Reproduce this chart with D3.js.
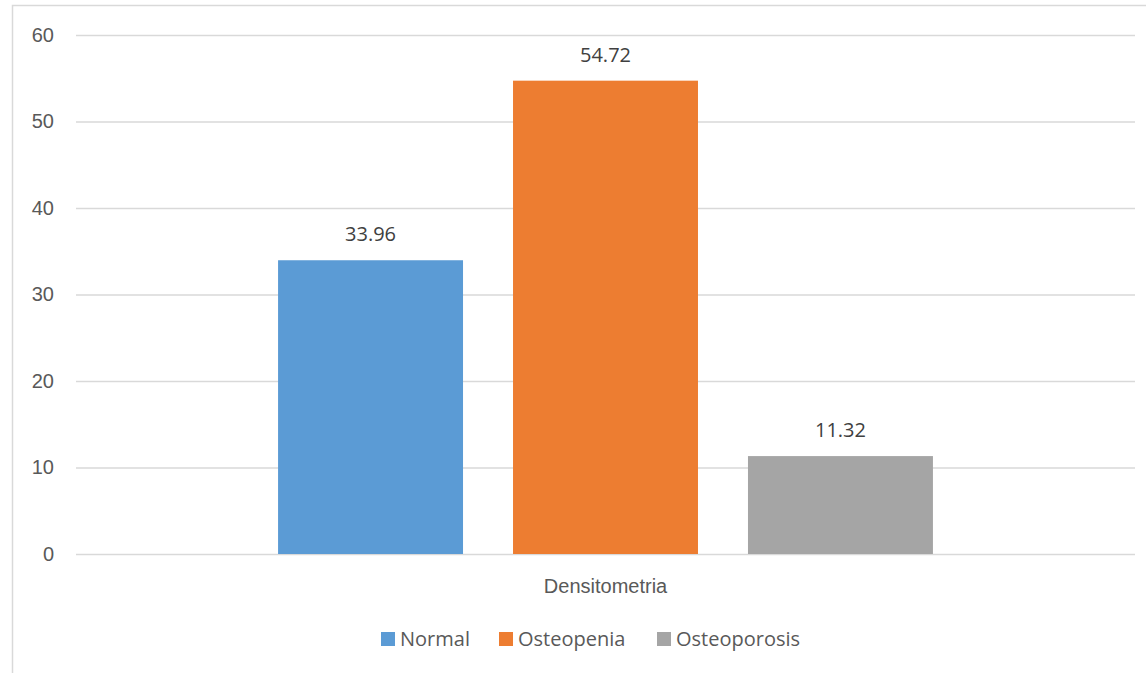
<!DOCTYPE html>
<html>
<head>
<meta charset="utf-8">
<script src="https://cdn.jsdelivr.net/npm/d3@7"></script>
<style>
  body { margin: 0; background: #fff; }
  svg { display: block; font-family: "Open Sans", "Noto Sans", sans-serif; }
</style>
</head>
<body>
<svg id="chart" width="1146" height="673"></svg>
<script>
// data
var categories = ["Densitometria"];
var seriesNames = ["Normal", "Osteopenia", "Osteoporosis"];
var seriesValues = [33.96, 54.72, 11.32];
var seriesColors = ["#5b9bd5", "#ed7d31", "#a5a5a5"];
var yTicks = [0, 10, 20, 30, 40, 50, 60];

var W = 1146, H = 673;
var margin = { top: 35, right: 11, bottom: 119, left: 76 };
var FONT = "20px";

var svg = d3.select("#chart");

// chart frame
svg.append("rect")
  .attr("x", 12.5).attr("y", 5.5)
  .attr("width", W + 10).attr("height", H + 10)
  .attr("fill", "none").attr("stroke", "#d9d9d9").attr("stroke-width", 1.5);

var x0 = d3.scaleBand()
  .domain(categories)
  .range([margin.left, W - margin.right]);

var x1 = d3.scaleBand()
  .domain(seriesNames)
  .range([0, x0.bandwidth()])
  .paddingInner(0.2128)
  .paddingOuter(0.86);

var y = d3.scaleLinear()
  .domain([0, 60])
  .range([H - margin.bottom, margin.top]);

// gridlines
var yAxis = d3.axisLeft(y)
  .tickValues(yTicks)
  .tickSize(-(W - margin.left - margin.right))
  .tickPadding(22);

var gy = svg.append("g")
  .attr("transform", "translate(" + margin.left + ",0)")
  .call(yAxis);
gy.select(".domain").remove();
gy.selectAll(".tick line").attr("stroke", "#d9d9d9").attr("stroke-width", 1.3);
gy.selectAll(".tick text")
  .attr("fill", "#595959")
  .style("font-size", FONT);

// bars
var group = svg.append("g")
  .selectAll("g")
  .data(categories)
  .join("g")
  .attr("transform", function(d) { return "translate(" + x0(d) + ",0)"; });

var barData = seriesNames.map(function(name, i) {
  return { name: name, value: seriesValues[i], color: seriesColors[i] };
});

group.selectAll("rect")
  .data(barData)
  .join("rect")
  .attr("x", function(d) { return x1(d.name); })
  .attr("y", function(d) { return y(d.value); })
  .attr("width", x1.bandwidth())
  .attr("height", function(d) { return y(0) - y(d.value); })
  .attr("fill", function(d) { return d.color; });

group.selectAll("text.label")
  .data(barData)
  .join("text")
  .classed("label", true)
  .attr("x", function(d) { return x1(d.name) + x1.bandwidth() / 2; })
  .attr("y", function(d) { return y(d.value) - 19; })
  .attr("text-anchor", "middle")
  .attr("fill", "#404040")
  .style("font-size", FONT)
  .text(function(d) { return d.value.toFixed(2); });

// category axis label
var xAxis = d3.axisBottom(x0).tickSize(0).tickPadding(25);
var gx = svg.append("g")
  .attr("transform", "translate(0," + y(0) + ")")
  .call(xAxis);
gx.select(".domain").remove();
gx.selectAll(".tick text")
  .attr("fill", "#595959")
  .style("font-size", FONT);

// legend
var legendX = [381, 499, 657];
var legend = svg.append("g")
  .selectAll("g")
  .data(barData)
  .join("g")
  .attr("transform", function(d, i) { return "translate(" + legendX[i] + ",632)"; });
legend.append("rect")
  .attr("width", 14).attr("height", 14)
  .attr("fill", function(d) { return d.color; });
legend.append("text")
  .attr("x", 19).attr("y", 13.5)
  .attr("fill", "#595959")
  .style("font-size", FONT)
  .text(function(d) { return d.name; });
</script>
</body>
</html>
